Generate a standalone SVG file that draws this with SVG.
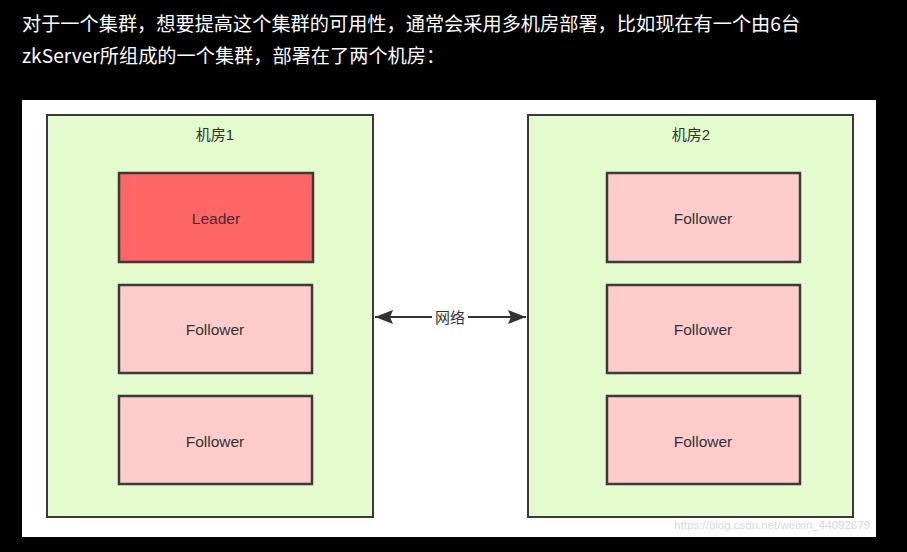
<svg xmlns="http://www.w3.org/2000/svg" width="907" height="552" viewBox="0 0 907 552">
<style>
.hdr{font-family:"Noto Sans CJK SC","Liberation Sans",sans-serif;font-size:19.2px;fill:#ffffff}
.room{fill:#e4fbcd;stroke:#3a3a3a;stroke-width:2}
.title{font-family:"Liberation Sans","Noto Sans CJK SC",sans-serif;font-size:15px;fill:#333333;text-anchor:middle;dominant-baseline:central}
.leader{fill:#ff6666;stroke:#3a3a3a;stroke-width:2.5}
.follower{fill:#ffcccc;stroke:#3a3a3a;stroke-width:2.5}
.lbl{font-family:"Liberation Sans",sans-serif;font-size:15.5px;fill:#333333;text-anchor:middle;dominant-baseline:central}
</style>
<defs>
<marker id="ah" viewBox="0 0 18 14" refX="18" refY="7" markerWidth="18" markerHeight="14" markerUnits="userSpaceOnUse" orient="auto-start-reverse">
<path d="M0,0 L18,7 L0,14 L3,7 Z" fill="#333333"/>
</marker>
</defs>
<rect x="0" y="0" width="907" height="552" fill="#000000"/>
<text class="hdr" x="22" y="31">对于一个集群，想要提高这个集群的可用性，通常会采用多机房部署，比如现在有一个由6台</text>
<text class="hdr" x="22" y="63">zkServer所组成的一个集群，部署在了两个机房：</text>
<rect x="22" y="100" width="854" height="437" fill="#ffffff"/>
<g id="room1">
<rect class="room" x="47" y="115" width="326" height="402"/>
<text class="title" x="215" y="134">机房1</text>
</g>
<g id="room2">
<rect class="room" x="528" y="115" width="325" height="402"/>
<text class="title" x="691" y="134">机房2</text>
</g>
<g id="leader1">
<rect class="leader" x="119" y="173" width="194" height="89"/>
<text class="lbl" x="216" y="218">Leader</text>
</g>
<g id="follower1">
<rect class="follower" x="119" y="285" width="193" height="88"/>
<text class="lbl" x="215" y="329">Follower</text>
</g>
<g id="follower2">
<rect class="follower" x="119" y="396" width="193" height="88"/>
<text class="lbl" x="215" y="441">Follower</text>
</g>
<g id="follower3">
<rect class="follower" x="607" y="173" width="193" height="89"/>
<text class="lbl" x="703" y="218">Follower</text>
</g>
<g id="follower4">
<rect class="follower" x="607" y="285" width="193" height="88"/>
<text class="lbl" x="703" y="329">Follower</text>
</g>
<g id="follower5">
<rect class="follower" x="607" y="396" width="193" height="88"/>
<text class="lbl" x="703" y="441">Follower</text>
</g>
<g id="connectors">
<line x1="375" y1="317" x2="526" y2="317" stroke="#333333" stroke-width="2" marker-start="url(#ah)" marker-end="url(#ah)"/>
<rect x="432" y="307" width="36" height="20" fill="#ffffff"/>
<text class="title" x="450" y="317">网络</text>
</g>
<text x="870" y="529" text-anchor="end" font-family="Liberation Sans,sans-serif" font-size="11.5" fill="#d8d8d8">https://blog.csdn.net/weixin_44092679</text>
</svg>
